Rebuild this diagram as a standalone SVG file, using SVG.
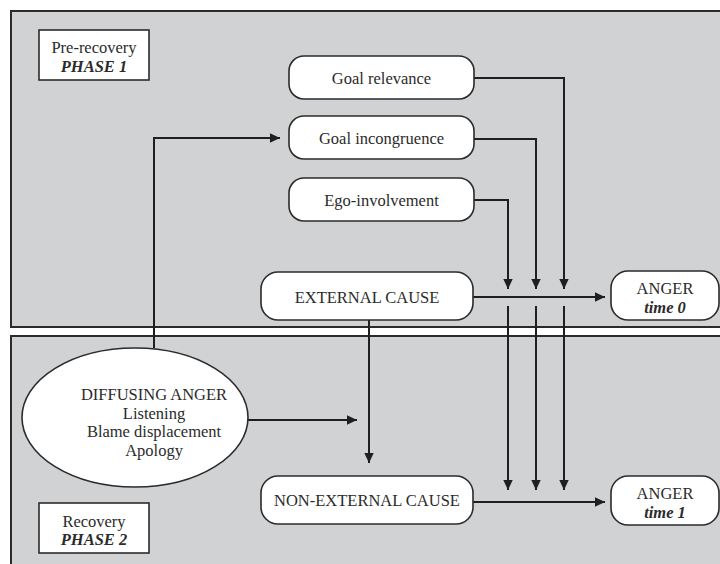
<svg xmlns="http://www.w3.org/2000/svg" width="720" height="564" viewBox="0 0 720 564">
  <style>
    .panel { fill: #d1d2d4; stroke: #2b2b2b; stroke-width: 2; }
    .label { fill: #ffffff; stroke: #2b2b2b; stroke-width: 1.6; }
    .node { fill: #ffffff; stroke: #2b2b2b; stroke-width: 1.6; }
    .t { font-family: "Liberation Serif", "Times New Roman", serif; font-size: 16.5px; fill: #2b2b2b; text-anchor: middle; }
    .bi { font-weight: bold; font-style: italic; }
    .conn { fill: none; stroke: #1f1f1f; stroke-width: 2; }
  </style>
  <defs>
    <marker id="arrow" markerUnits="userSpaceOnUse" markerWidth="10" markerHeight="10" refX="10" refY="5" orient="auto">
      <path d="M0,0.3 L10,5 L0,9.7 z" fill="#1f1f1f"/>
    </marker>
  </defs>

  <rect width="720" height="564" fill="#ffffff"/>

  <!-- Phase panels -->
  <g id="phase1">
    <rect class="panel" x="11" y="11" width="720" height="316"/>
    <rect class="label" x="39" y="30" width="110" height="50"/>
    <text class="t" x="94" y="53">Pre-recovery</text>
    <text class="t bi" x="94" y="72">PHASE 1</text>
  </g>
  <g id="phase2">
    <rect class="panel" x="11" y="336" width="720" height="240"/>
    <rect class="label" x="39" y="503" width="110" height="50"/>
    <text class="t" x="94" y="527">Recovery</text>
    <text class="t bi" x="94" y="545">PHASE 2</text>
  </g>

  <!-- Connectors -->
  <g id="connectors">
    <path class="conn" d="M474,78 H564 V289" marker-end="url(#arrow)"/>
    <path class="conn" d="M474,139 H536 V289" marker-end="url(#arrow)"/>
    <path class="conn" d="M474,200 H508 V289" marker-end="url(#arrow)"/>
    <path class="conn" d="M473,297 H605" marker-end="url(#arrow)"/>
    <path class="conn" d="M508,306 V490" marker-end="url(#arrow)"/>
    <path class="conn" d="M536,306 V490" marker-end="url(#arrow)"/>
    <path class="conn" d="M564,306 V490" marker-end="url(#arrow)"/>
    <path class="conn" d="M369,320 V463" marker-end="url(#arrow)"/>
    <path class="conn" d="M473,502 H605" marker-end="url(#arrow)"/>
    <path class="conn" d="M154,348 V138 H280" marker-end="url(#arrow)"/>
    <path class="conn" d="M248,420 H357" marker-end="url(#arrow)"/>
  </g>

  <!-- Nodes -->
  <g id="goal-relevance">
    <rect class="node" x="289" y="56" width="185" height="43" rx="15" ry="15"/>
    <text class="t" x="381.5" y="84">Goal relevance</text>
  </g>
  <g id="goal-incongruence">
    <rect class="node" x="289" y="116" width="185" height="43" rx="15" ry="15"/>
    <text class="t" x="381.5" y="144">Goal incongruence</text>
  </g>
  <g id="ego-involvement">
    <rect class="node" x="289" y="178" width="185" height="43" rx="15" ry="15"/>
    <text class="t" x="381.5" y="206">Ego-involvement</text>
  </g>
  <g id="external-cause">
    <rect class="node" x="261" y="272" width="212" height="48" rx="17" ry="17"/>
    <text class="t" x="367" y="302.5">EXTERNAL CAUSE</text>
  </g>
  <g id="anger-time0">
    <rect class="node" x="611" y="271" width="108" height="49" rx="17" ry="17"/>
    <text class="t" x="665" y="294">ANGER</text>
    <text class="t bi" x="665" y="313">time 0</text>
  </g>
  <g id="diffusing-anger">
    <ellipse class="node" cx="135" cy="417.5" rx="113" ry="69.5"/>
    <text class="t" x="154" y="399.5">DIFFUSING ANGER</text>
    <text class="t" x="154" y="418.5">Listening</text>
    <text class="t" x="154" y="437">Blame displacement</text>
    <text class="t" x="154" y="455.5">Apology</text>
  </g>
  <g id="non-external-cause">
    <rect class="node" x="261" y="476" width="212" height="48" rx="17" ry="17"/>
    <text class="t" x="367" y="505.5">NON-EXTERNAL CAUSE</text>
  </g>
  <g id="anger-time1">
    <rect class="node" x="611" y="476" width="108" height="49" rx="17" ry="17"/>
    <text class="t" x="665" y="499">ANGER</text>
    <text class="t bi" x="665" y="518">time 1</text>
  </g>
</svg>
